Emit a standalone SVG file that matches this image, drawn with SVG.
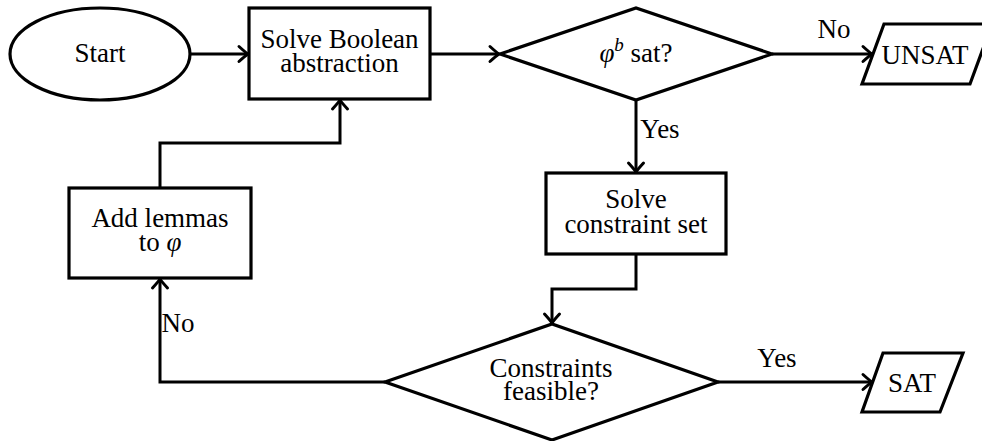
<svg xmlns="http://www.w3.org/2000/svg" width="982" height="441" viewBox="0 0 982 441">
<style>
.node{fill:#fff;stroke:#000;stroke-width:3.2;stroke-linejoin:miter}
.conn{fill:none;stroke:#000;stroke-width:3;stroke-linejoin:miter}
text{fill:#000;text-anchor:middle}
.lbl{font-size:27px}
.it{font-style:italic}
</style>
<defs>
<marker id="arr" markerUnits="userSpaceOnUse" markerWidth="20" markerHeight="20" viewBox="-12 -10 14 20" refX="0" refY="0" orient="auto">
<path d="M-9,-7.5 Q-3,-2 0,0 Q-3,2 -9,7.5" fill="none" stroke="#000" stroke-width="3" stroke-linecap="round"/>
</marker>
</defs>
<rect x="0" y="0" width="982" height="441" fill="#fff"/>
<g id="connectors">
<path class="conn" d="M190,54 L248,54" marker-end="url(#arr)"/>
<path class="conn" d="M430,54 L499,54" marker-end="url(#arr)"/>
<path class="conn" d="M772,54 L872,54" marker-end="url(#arr)"/>
<path class="conn" d="M636,100 L636,172" marker-end="url(#arr)"/>
<path class="conn" d="M636,254 L636,289 L552,289 L552,323" marker-end="url(#arr)"/>
<path class="conn" d="M718,382 L872,382" marker-end="url(#arr)"/>
<path class="conn" d="M385,382 L160,382 L160,279" marker-end="url(#arr)"/>
<path class="conn" d="M160,188 L160,143 L340,143 L340,100" marker-end="url(#arr)"/>
<text class="lbl" font-family="Liberation Serif" x="834" y="38">No</text>
<text class="lbl" font-family="Liberation Serif" x="660" y="138">Yes</text>
<text class="lbl" font-family="Liberation Serif" x="777" y="367">Yes</text>
<text class="lbl" font-family="Liberation Serif" x="178" y="332">No</text>
</g>
<g id="start">
<ellipse class="node" cx="100" cy="54" rx="90" ry="46"/>
<text class="lbl" font-family="Liberation Serif" x="100" y="62">Start</text>
</g>
<g id="solve-boolean">
<rect class="node" x="249" y="8" width="181" height="91"/>
<text class="lbl" font-family="Liberation Serif" x="339.5" y="48">Solve Boolean</text>
<text class="lbl" font-family="Liberation Serif" x="339.5" y="72">abstraction</text>
</g>
<g id="phi-sat">
<polygon class="node" points="500,54 636,8 772,54 636,100"/>
<text class="lbl" font-family="Liberation Serif" x="636" y="62"><tspan class="it">φ</tspan><tspan class="it" font-size="19" dy="-11">b</tspan><tspan dy="11"> sat?</tspan></text>
</g>
<g id="unsat">
<polygon class="node" points="884,24 992,24 970,84 862,84"/>
<text class="lbl" font-family="Liberation Serif" x="925" y="64">UNSAT</text>
</g>
<g id="solve-constraint">
<rect class="node" x="546" y="173" width="180" height="81"/>
<text class="lbl" font-family="Liberation Serif" x="636" y="208">Solve</text>
<text class="lbl" font-family="Liberation Serif" x="636" y="233">constraint set</text>
</g>
<g id="feasible">
<polygon class="node" points="385,382 552,324 718,382 552,440"/>
<text class="lbl" font-family="Liberation Serif" x="551" y="377">Constraints</text>
<text class="lbl" font-family="Liberation Serif" x="551" y="400">feasible?</text>
</g>
<g id="sat">
<polygon class="node" points="883,353 963,353 940,412 862,412"/>
<text class="lbl" font-family="Liberation Serif" x="912" y="392">SAT</text>
</g>
<g id="add-lemmas">
<rect class="node" x="69" y="188" width="182" height="90"/>
<text class="lbl" font-family="Liberation Serif" x="160" y="227">Add lemmas</text>
<text class="lbl" font-family="Liberation Serif" x="160" y="251">to <tspan class="it">φ</tspan></text>
</g>
</svg>
